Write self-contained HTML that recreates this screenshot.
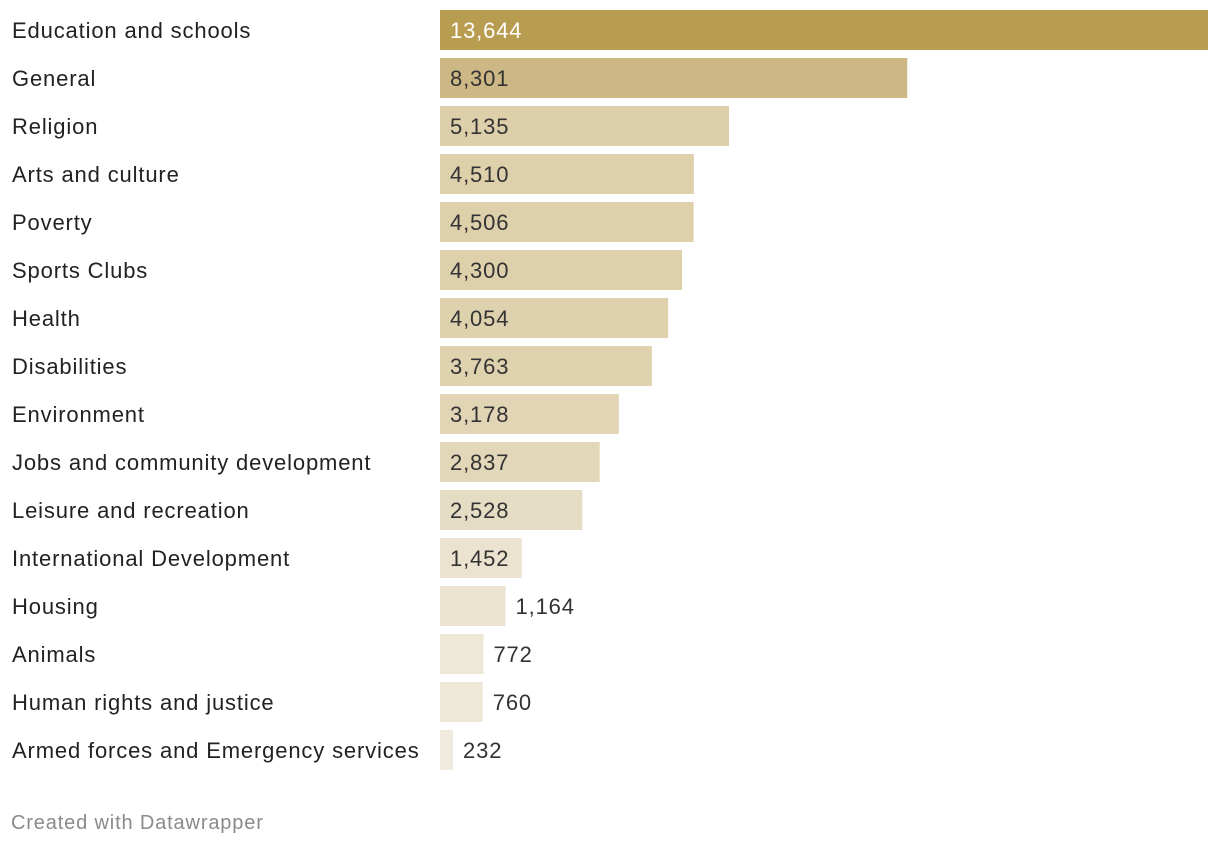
<!DOCTYPE html>
<html><head><meta charset="utf-8"><style>
body{margin:0;width:1220px;height:846px;background:#fff;font-family:"Liberation Sans",sans-serif;overflow:hidden}
svg text{font-family:"Liberation Sans",sans-serif;letter-spacing:0.85px}
</style></head><body>
<svg id="chart" width="1220" height="846" xmlns="http://www.w3.org/2000/svg">
<text x="11" y="829" font-size="20" fill="#8a8a8a">Created with Datawrapper</text>
</svg>
<script>
const categories=["Education and schools","General","Religion","Arts and culture","Poverty","Sports Clubs","Health","Disabilities","Environment","Jobs and community development","Leisure and recreation","International Development","Housing","Animals","Human rights and justice","Armed forces and Emergency services"];
const values=[13644,8301,5135,4510,4506,4300,4054,3763,3178,2837,2528,1452,1164,772,760,232];
const colors=["#b89c50","#cdb885","#ddcfaa","#ddd0ab","#ddd0ab","#ddd0ab","#ded1ad","#dfd2af","#e1d5b5","#e2d7b9","#e5dcc4","#ebe3cf","#ebe3d0","#eee8d9","#eee8d9","#f0ebde"];
const svg=document.getElementById('chart');
const NS="http://www.w3.org/2000/svg";
const x0=440,x1=1208,maxV=Math.max(...values);
const xs=v=>v/maxV*(x1-x0);
const yRow=i=>10+i*48;
categories.forEach((c,i)=>{
  const y=yRow(i);
  const t=document.createElementNS(NS,'text');
  
  
  t.setAttribute('x',12);t.setAttribute('y',y+28);t.setAttribute('font-size','22');t.setAttribute('fill','#222');
  t.textContent=c;svg.appendChild(t);
  const w=xs(values[i]);
  const r=document.createElementNS(NS,'rect');
  
  
  r.setAttribute('x',x0);r.setAttribute('y',y);r.setAttribute('width',w);r.setAttribute('height',40);r.setAttribute('fill',colors[i]);
  svg.appendChild(r);
  const v=document.createElementNS(NS,'text');
  
  
  const inside=w>80;
  v.setAttribute('x',inside?x0+10:x0+w+10);v.setAttribute('y',y+28);v.setAttribute('font-size','22');
  v.setAttribute('fill',i===0?'#fff':'#333');
  v.textContent=values[i].toLocaleString('en-US');svg.appendChild(v);
});
</script>
</body></html>
